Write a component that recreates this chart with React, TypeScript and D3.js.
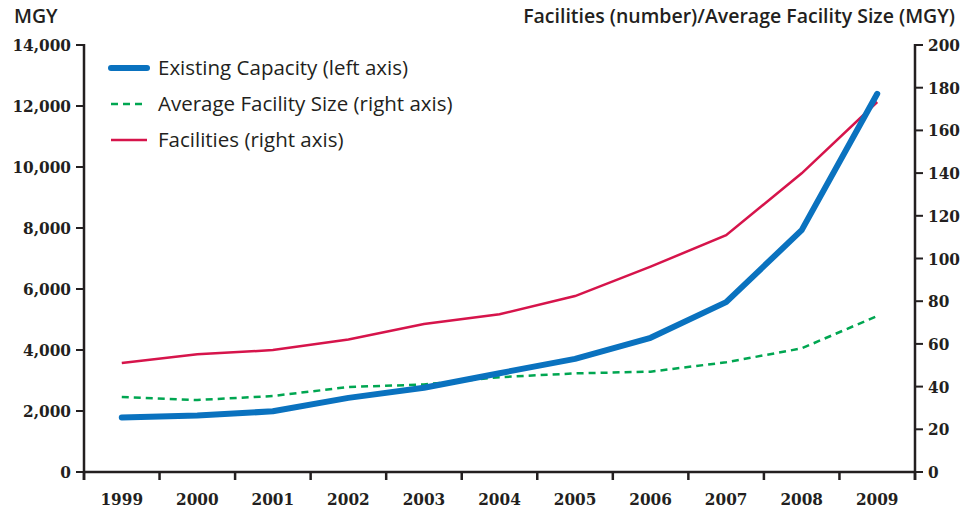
import React from 'react';
import * as d3 from 'd3';

// values
const years = ['1999', '2000', '2001', '2002', '2003', '2004', '2005', '2006', '2007', '2008', '2009'];
const capacity = [1790, 1850, 1990, 2430, 2760, 3240, 3710, 4400, 5570, 7930, 12400];
const avgSize = [35.1, 33.7, 35.6, 39.8, 41.0, 44.4, 46.2, 47.0, 51.4, 57.9, 73.1];
const facilities = [51.1, 55.1, 57.1, 62.1, 69.3, 73.9, 82.4, 96.2, 110.9, 139.9, 173.3];
const leftTicks = [0, 2000, 4000, 6000, 8000, 10000, 12000, 14000];
const rightTicks = [0, 20, 40, 60, 80, 100, 120, 140, 160, 180, 200];

const legendItems = [
  { label: 'Existing Capacity (left axis)', color: '#0a72bf', width: 6, dash: null },
  { label: 'Average Facility Size (right axis)', color: '#00a651', width: 2.5, dash: '7 5' },
  { label: 'Facilities (right axis)', color: '#d6144b', width: 2.5, dash: null },
];

const W = 966;
const H = 513;
const margin = { top: 45, right: 51, bottom: 41, left: 84 };
const axisColor = '#231f20';
const tickFont = '"DejaVu Serif Condensed", "DejaVu Serif", serif';
const labelFont = '"Open Sans", Lato, sans-serif';

export default function App() {
  const x = d3.scaleBand().domain(years).range([margin.left, W - margin.right]).padding(0);
  const yLeft = d3.scaleLinear().domain([0, 14000]).range([H - margin.bottom, margin.top]);
  const yRight = d3.scaleLinear().domain([0, 200]).range([H - margin.bottom, margin.top]);
  const cx = (yr: string) => (x(yr) as number) + x.bandwidth() / 2;

  const lineLeft = d3.line<number>().x((_, i) => cx(years[i])).y(d => yLeft(d));
  const lineRight = d3.line<number>().x((_, i) => cx(years[i])).y(d => yRight(d));

  const x0 = margin.left;
  const x1 = W - margin.right;
  const yBase = H - margin.bottom;
  const edges = [...years.map(yr => x(yr) as number), x1];
  const fmt = d3.format(',');

  return (
    <svg width={W} height={H} style={{ position: 'absolute', left: 0, top: 0, background: '#fff' }}>
      {/* axis titles */}
      <text x={14} y={23} fontFamily={labelFont} fontWeight={600} fontSize={19.5} fill={axisColor}>MGY</text>
      <text x={955} y={23} textAnchor="end" fontFamily={labelFont} fontWeight={600} fontSize={19.5} fill={axisColor}>
        Facilities (number)/Average Facility Size (MGY)
      </text>

      {/* series */}
      <path d={lineRight(facilities) || ''} fill="none" stroke="#d6144b" strokeWidth={2.5} />
      <path d={lineRight(avgSize) || ''} fill="none" stroke="#00a651" strokeWidth={2.5} strokeDasharray="7 5" />
      <path d={lineLeft(capacity) || ''} fill="none" stroke="#0a72bf" strokeWidth={6} strokeLinecap="round" strokeLinejoin="round" />

      {/* left axis */}
      <line x1={x0} x2={x0} y1={margin.top - 1} y2={yBase + 8} stroke={axisColor} strokeWidth={2.5} />
      {leftTicks.map(t => (
        <g key={'l' + t}>
          <line x1={x0 - 8} x2={x0} y1={yLeft(t)} y2={yLeft(t)} stroke={axisColor} strokeWidth={2} />
          <text x={x0 - 13} y={yLeft(t) + 6} textAnchor="end" fontFamily={tickFont} fontWeight={700} fontSize={17} fill={axisColor}>
            {fmt(t)}
          </text>
        </g>
      ))}

      {/* right axis */}
      <line x1={x1} x2={x1} y1={margin.top - 1} y2={yBase + 8} stroke={axisColor} strokeWidth={2.5} />
      {rightTicks.map(t => (
        <g key={'r' + t}>
          <line x1={x1} x2={x1 + 8} y1={yRight(t)} y2={yRight(t)} stroke={axisColor} strokeWidth={2} />
          <text x={x1 + 13} y={yRight(t) + 6} fontFamily={tickFont} fontWeight={700} fontSize={17} fill={axisColor}>
            {t}
          </text>
        </g>
      ))}

      {/* bottom axis */}
      <line x1={x0} x2={x1} y1={yBase} y2={yBase} stroke={axisColor} strokeWidth={2.5} />
      {edges.map((e, i) => (
        <line key={'e' + i} x1={e} x2={e} y1={yBase} y2={yBase + 8} stroke={axisColor} strokeWidth={2.5} />
      ))}
      {years.map(yr => (
        <text key={yr} x={cx(yr)} y={505} textAnchor="middle" fontFamily={tickFont} fontWeight={700} fontSize={17} fill={axisColor}>
          {yr}
        </text>
      ))}

      {/* legend */}
      {legendItems.map((d, i) => {
        const ly = 68 + i * 36;
        return (
          <g key={d.label}>
            <line x1={111} x2={147} y1={ly} y2={ly} stroke={d.color} strokeWidth={d.width}
              strokeDasharray={d.dash || undefined} strokeLinecap={i === 0 ? 'round' : 'butt'} />
            <text x={158} y={ly + 7} fontFamily={labelFont} fontSize={20.5} fill={axisColor}>{d.label}</text>
          </g>
        );
      })}
    </svg>
  );
}
